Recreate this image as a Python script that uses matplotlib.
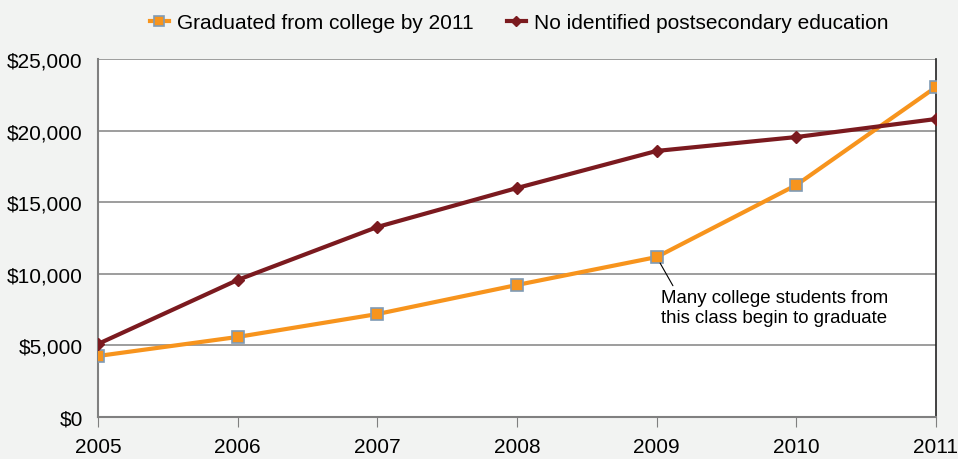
import matplotlib.pyplot as plt
import numpy as np

plt.rcParams["font.family"] = ["Liberation Sans", "DejaVu Sans"]

years = [2005, 2006, 2007, 2008, 2009, 2010, 2011]
graduated = [4260, 5590, 7190, 9220, 11170, 16200, 23040]
no_postsec = [5100, 9570, 13270, 15990, 18580, 19550, 20810]
yticks = [0, 5000, 10000, 15000, 20000, 25000]

orange = "#F7941D"
maroon = "#7B1A1F"
bg = "#F2F3F2"

fig = plt.figure(figsize=(9.58, 4.6), dpi=100, facecolor=bg)
ax = fig.add_axes([98 / 958, 42 / 460, 838 / 958, 358 / 460])
ax.set_facecolor("white")

ax.plot(years, graduated, color=orange, lw=3, marker="s", ms=9,
        mfc=orange, mec="#7F9BB5", mew=1.2, label="Graduated from college by 2011", zorder=3)
ax.plot(years, no_postsec, color=maroon, lw=3, marker="D", ms=6.5,
        mfc=maroon, mec=maroon, label="No identified postsecondary education", zorder=3)

ax.set_xlim(2005, 2011)
ax.set_ylim(0, 25000)
ax.set_xticks(years)
ax.set_yticks(yticks)
ax.set_yticklabels([f"${v:,}" for v in yticks])
ax.tick_params(axis="x", direction="out", length=7, color="#808080", labelsize=15, pad=7.5)
ax.tick_params(axis="y", length=0, labelsize=15, pad=11)
ax.grid(axis="y", color="#8C8C8C", lw=1.2)
ax.set_axisbelow(True)

for side in ["left", "bottom"]:
    ax.spines[side].set_color("#808080")
    ax.spines[side].set_linewidth(1.5)
ax.spines["top"].set_visible(False)
ax.spines["right"].set_color("#222222")
ax.spines["right"].set_linewidth(1.2)

ax.annotate("Many college students from\nthis class begin to graduate",
            xy=(years[4], graduated[4]), xytext=(2009.03, 7650),
            fontsize=13.4, ha="left", va="center", linespacing=1.3,
            arrowprops=dict(arrowstyle="-", color="black", lw=0.8,
                            shrinkA=0, shrinkB=5, relpos=(0.06, 1.0)))

fig.legend(loc="upper center", bbox_to_anchor=(0.542, 1.01), ncol=2, frameon=False,
           fontsize=15, handlelength=0.9, columnspacing=1.6, handletextpad=0.4,
           markerscale=0.75)

fig.savefig("out.png", dpi=100, facecolor=bg)
